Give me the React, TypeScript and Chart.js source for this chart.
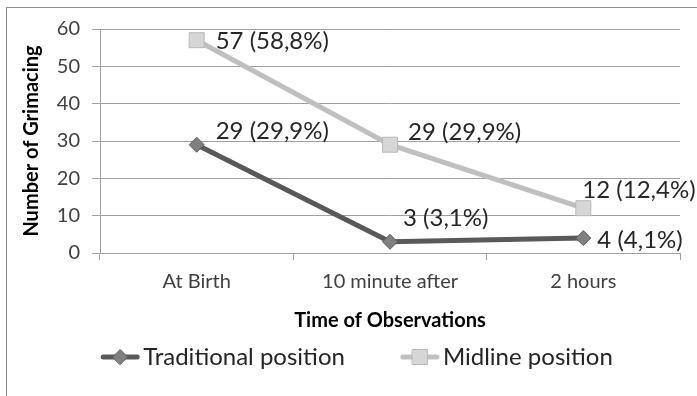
import { useEffect, useRef } from 'react';
import { Chart, registerables } from 'chart.js';

Chart.register(...registerables);

const categories = ['At Birth', '10 minute after', '2 hours'];
const traditionalValues = [29, 3, 4];
const midlineValues = [57, 29, 12];
const traditionalPercents = ['29,9%', '3,1%', '4,1%'];
const midlinePercents = ['58,8%', '29,9%', '12,4%'];
const yTickValues = [0, 10, 20, 30, 40, 50, 60];
const seriesNames = ['Traditional position', 'Midline position'];
const xTitle = 'Time of Observations';
const yTitle = 'Number of Grimacing';

const FONT = 'Lato, "Open Sans", sans-serif';

// placement of each data label relative to its point: [dx, dy]
const labelPlacement = [
  [[19, -13], [13, -24], [14, 2]],
  [[19, 1], [18, -12], [-1, -18]],
];

function drawMarker(ctx: CanvasRenderingContext2D, style: string, x: number, y: number, r: number, fill: string, stroke: string) {
  ctx.beginPath();
  if (style === 'rectRot') {
    ctx.moveTo(x - r, y);
    ctx.lineTo(x, y - r);
    ctx.lineTo(x + r, y);
    ctx.lineTo(x, y + r);
    ctx.closePath();
  } else {
    const s = r * Math.SQRT1_2;
    ctx.rect(x - s, y - s, 2 * s, 2 * s);
  }
  ctx.fillStyle = fill;
  ctx.fill();
  ctx.lineWidth = 1;
  ctx.strokeStyle = stroke;
  ctx.stroke();
}

const dataLabelPlugin = {
  id: 'dataLabels',
  afterDatasetsDraw(chart: any) {
    const ctx = chart.ctx as CanvasRenderingContext2D;
    ctx.save();
    ctx.font = `24px ${FONT}`;
    ctx.fillStyle = '#262626';
    ctx.textAlign = 'left';
    ctx.textBaseline = 'middle';
    chart.data.datasets.forEach((ds: any, di: number) => {
      const meta = chart.getDatasetMeta(di);
      meta.data.forEach((el: any, i: number) => {
        const [dx, dy] = labelPlacement[di][i];
        ctx.fillText(`${ds.data[i]} (${ds.percents[i]})`, el.x + dx, el.y + dy);
      });
    });
    ctx.restore();
  },
};

const legendPlugin = {
  id: 'lineLegend',
  afterDraw(chart: any) {
    const ctx = chart.ctx as CanvasRenderingContext2D;
    const markerW = 40;
    const gap = 3;
    const itemGap = 55;
    ctx.save();
    ctx.font = `24px ${FONT}`;
    const items = chart.data.datasets.map((ds: any) => ({ ds, w: ctx.measureText(ds.label).width }));
    const total = items.reduce((s: number, it: any) => s + markerW + gap + it.w, 0) + itemGap * (items.length - 1);
    let x = (chart.width - total) / 2 + 8;
    const y = chart.chartArea.bottom + 104;
    items.forEach(({ ds, w }: any) => {
      ctx.strokeStyle = ds.borderColor;
      ctx.lineWidth = 5;
      ctx.lineCap = 'round';
      ctx.beginPath();
      ctx.moveTo(x + 3, y);
      ctx.lineTo(x + markerW - 3, y);
      ctx.stroke();
      drawMarker(ctx, ds.pointStyle, x + markerW / 2, y, ds.pointRadius, ds.pointBackgroundColor, ds.pointBorderColor);
      ctx.fillStyle = '#262626';
      ctx.textAlign = 'left';
      ctx.textBaseline = 'middle';
      ctx.fillText(ds.label, x + markerW + gap, y);
      x += markerW + gap + w + itemGap;
    });
    ctx.restore();
  },
};

export default function App() {
  const canvasRef = useRef<HTMLCanvasElement | null>(null);

  useEffect(() => {
    if (!canvasRef.current) return;
    const chart = new Chart(canvasRef.current, {
      type: 'line',
      data: {
        labels: categories,
        datasets: [
          {
            label: seriesNames[0],
            data: traditionalValues,
            percents: traditionalPercents,
            borderColor: '#595959',
            borderWidth: 5,
            pointStyle: 'rectRot',
            pointRadius: 7.5,
            pointBackgroundColor: '#808080',
            pointBorderColor: '#5e5e5e',
            pointBorderWidth: 1,
            tension: 0,
          } as any,
          {
            label: seriesNames[1],
            data: midlineValues,
            percents: midlinePercents,
            borderColor: '#bfbfbf',
            borderWidth: 5,
            pointStyle: 'rect',
            pointRadius: 10.6,
            pointBackgroundColor: '#d6d6d6',
            pointBorderColor: '#b8b8b8',
            pointBorderWidth: 1,
            tension: 0,
          } as any,
        ],
      },
      options: {
        responsive: false,
        animation: false,
        events: [],
        layout: { padding: { left: 0, right: 17, top: 29, bottom: 63 } },
        plugins: {
          legend: { display: false },
          tooltip: { enabled: false },
        },
        scales: {
          x: {
            offset: true,
            grid: {
              display: true,
              drawOnChartArea: false,
              drawTicks: true,
              tickLength: 7,
              offset: true,
              color: '#a0a0a0',
            },
            border: { display: true, color: '#a0a0a0' },
            ticks: {
              font: { family: FONT, size: 20 },
              color: '#404040',
              padding: 10,
              maxRotation: 0,
            },
            title: {
              display: true,
              text: xTitle,
              font: { family: FONT, size: 20, weight: 'bold' },
              color: '#000000',
              padding: { top: 0, bottom: 0 },
            },
            afterFit: (s: any) => {
              s.height = 80;
            },
          },
          y: {
            min: 0,
            max: 60,
            afterBuildTicks: (s: any) => {
              s.ticks = yTickValues.map((v) => ({ value: v }));
            },
            grid: { color: '#a0a0a0', tickLength: 8 },
            border: { display: true, color: '#a0a0a0' },
            ticks: {
              font: { family: FONT, size: 20 },
              color: '#404040',
              padding: 12,
            },
            title: {
              display: true,
              text: yTitle,
              font: { family: FONT, size: 20, weight: 'bold' },
              color: '#000000',
              padding: { top: 20, bottom: 0 },
            },
            afterFit: (s: any) => {
              s.width = 100;
            },
          },
        },
      } as any,
      plugins: [dataLabelPlugin, legendPlugin],
    });
    return () => chart.destroy();
  }, []);

  return (
    <div style={{ position: 'fixed', left: 0, top: 0, width: 697, height: 396, background: '#fff' }}>
      <canvas ref={canvasRef} width={697} height={396} style={{ position: 'absolute', left: 0, top: 0 }} />
      <div
        style={{
          position: 'absolute',
          left: 6,
          top: 7,
          right: 0,
          bottom: 0,
          borderLeft: '1px solid #8c8c8c',
          borderTop: '1px solid #8c8c8c',
          pointerEvents: 'none',
        }}
      />
    </div>
  );
}
